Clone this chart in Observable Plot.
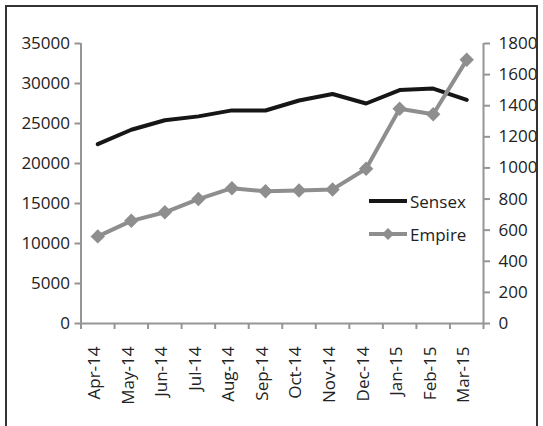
<!DOCTYPE html>
<html><head><meta charset="utf-8">
<script src="https://cdn.jsdelivr.net/npm/d3@7"></script>
<script src="https://cdn.jsdelivr.net/npm/@observablehq/plot@0.6"></script>
<style>
body{margin:0;background:#fff;}
#wrap{position:relative;width:543px;height:426px;overflow:hidden;font-family:"Open Sans",sans-serif;background:#fff;}
#border{position:absolute;left:5px;top:5px;width:533px;height:450px;border:2px solid #333;box-sizing:border-box;pointer-events:none;}
#chart{position:absolute;left:0;top:0;}
#legend{position:absolute;left:369px;top:188px;font-family:"Open Sans",sans-serif;font-size:17px;color:#222;}
.row{display:flex;align-items:center;height:26px;margin-bottom:7px;}
.row svg{display:block;margin-right:3px;}
</style>
</head><body>
<div id="wrap"><div id="chart"></div><div id="border"></div><div id="legend"></div></div>
<script>
const months = ["Apr-14","May-14","Jun-14","Jul-14","Aug-14","Sep-14","Oct-14","Nov-14","Dec-14","Jan-15","Feb-15","Mar-15"];
const sensex = [22420, 24220, 25410, 25890, 26640, 26630, 27870, 28690, 27500, 29180, 29360, 27960];
const empire = [560, 660, 715, 800, 870, 850, 855, 862, 995, 1380, 1345, 1695];
const leftTicks = [0, 5000, 10000, 15000, 20000, 25000, 30000, 35000];
const rightTicks = [0, 200, 400, 600, 800, 1000, 1200, 1400, 1600, 1800];
const seriesNames = ["Sensex", "Empire"];
const seriesColors = ["#161616", "#8e8e8e"];

const k = 35000 / 1800;
const gray = "#959595";
const rows = months.map((m, i) => ({m, i, sensex: sensex[i], empire: empire[i] * k}));

const chart = Plot.plot({
  width: 543, height: 426,
  marginLeft: 80.5, marginRight: 60, marginTop: 43, marginBottom: 103,
  style: {fontFamily: "Open Sans, sans-serif", fontSize: "17px", background: "transparent"},
  x: {type: "linear", domain: [0, 12], axis: null},
  y: {domain: [0, 35000], axis: null},
  marks: [
    Plot.ruleX([0, 12], {stroke: gray, strokeWidth: 2}),
    Plot.ruleY([0], {stroke: gray, strokeWidth: 2}),
    Plot.axisY(leftTicks, {anchor: "left", tickSize: 6, tickPadding: 5, stroke: gray, strokeWidth: 2, fill: "#222", tickFormat: d => String(d), fontSize: 17}),
    Plot.axisY(rightTicks.map(v => v * k), {anchor: "right", tickSize: 6, tickPadding: 9, stroke: gray, strokeWidth: 2, fill: "#222", tickFormat: d => String(Math.round(d / k)), fontSize: 17}),
    Plot.axisX(d3.range(months.length + 1), {anchor: "bottom", tickSize: 6, stroke: gray, strokeWidth: 2, tickFormat: () => ""}),
    Plot.text(rows, {x: d => d.i + 0.5, frameAnchor: "bottom", text: "m", rotate: -90, textAnchor: "end", lineAnchor: "middle", dy: 23, dx: -3, fill: "#222", fontSize: 17}),
    Plot.line(rows, {x: d => d.i + 0.5, y: "sensex", stroke: seriesColors[0], strokeWidth: 4}),
    Plot.line(rows, {x: d => d.i + 0.5, y: "empire", stroke: seriesColors[1], strokeWidth: 4}),
    Plot.dot(rows, {x: d => d.i + 0.5, y: "empire", symbol: "diamond2", r: 6.5, fill: seriesColors[1], stroke: null})
  ]
});
document.getElementById("chart").appendChild(chart);

const legend = document.getElementById("legend");
seriesNames.forEach((name, j) => {
  const row = document.createElement("div");
  row.className = "row";
  const marker = j === 1 ? '<path d="M19 7 L25 13 L19 19 L13 13 Z" fill="' + seriesColors[j] + '"/>' : '';
  row.innerHTML = '<svg width="38" height="26"><line x1="0" x2="38" y1="13" y2="13" stroke="' + seriesColors[j] + '" stroke-width="4"/>' + marker + '</svg><span>' + name + '</span>';
  legend.appendChild(row);
});
</script>
</body></html>
